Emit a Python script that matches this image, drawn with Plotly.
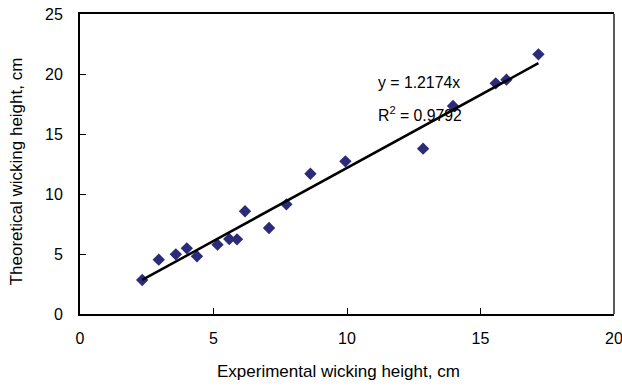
import plotly.graph_objects as go

exp_height = [2.33, 2.95, 3.59, 4.0, 4.38, 5.15, 5.59, 5.88, 6.18, 7.08, 7.73,
              8.63, 9.94, 12.85, 13.97, 15.57, 15.97, 17.17]
theo_height = [2.83, 4.53, 4.97, 5.47, 4.81, 5.78, 6.25, 6.22, 8.56, 7.17, 9.14,
               11.69, 12.72, 13.78, 17.33, 19.22, 19.53, 21.64]
slope = 1.2174
r2_text = "0.9792"
x_ticks = [0, 5, 10, 15, 20]
y_ticks = [0, 5, 10, 15, 20, 25]
x_title = "Experimental wicking height, cm"
y_title = "Theoretical wicking height, cm"

xmin, xmax = min(exp_height), max(exp_height)
fit_x = [xmin, xmax]
fit_y = [slope * v for v in fit_x]

fig = go.Figure()
fig.add_trace(go.Scatter(x=exp_height, y=theo_height, mode="markers",
                         marker=dict(symbol="diamond", size=9.5, color="#2b2b7a",
                                     line=dict(width=0)),
                         showlegend=False))
fig.add_trace(go.Scatter(x=fit_x, y=fit_y, mode="lines",
                         line=dict(color="black", width=2.5), showlegend=False))

fam = "Liberation Sans, Arial, sans-serif"
font = dict(family=fam, size=15.8, color="black")
tick_font = dict(family=fam, size=16, color="black")
title_font = dict(family=fam, size=17, color="black")
fig.add_annotation(x=11.1, y=19.3, xref="x", yref="y", text=f"y = {slope}x",
                   showarrow=False, xanchor="left", yanchor="middle", font=font)
fig.add_annotation(x=11.1, y=16.7, xref="x", yref="y",
                   text=f"R<sup>2</sup> = {r2_text}",
                   showarrow=False, xanchor="left", yanchor="middle", font=font)
fig.add_annotation(x=0.484, y=-0.193, xref="paper", yref="paper", text=x_title,
                   showarrow=False, xanchor="center", yanchor="middle", font=title_font)
fig.add_annotation(x=-0.119, y=0.477, xref="paper", yref="paper", text=y_title,
                   textangle=-90, showarrow=False, xanchor="center", yanchor="middle",
                   font=title_font)

axis_common = dict(showgrid=False, zeroline=False, showline=True, linecolor="black",
                   linewidth=2, ticks="inside", ticklen=6,
                   tickwidth=1, tickcolor="black", tickfont=tick_font,
                   ticklabeloverflow="allow", automargin=False)
fig.update_xaxes(range=[0, 20], tickvals=x_ticks, ticklabelstandoff=9, mirror=True,
                 **axis_common)
fig.update_yaxes(range=[0, 25], tickvals=y_ticks, ticklabelstandoff=12, mirror=False,
                 **axis_common)
fig.add_shape(type="line", xref="paper", yref="paper", x0=1, x1=1, y0=0, y1=1,
              line=dict(color="black", width=1.3))
fig.update_layout(width=622, height=387, margin=dict(l=80, r=8, t=14, b=73),
                  plot_bgcolor="white", paper_bgcolor="white", font=font)
fig.write_html("out.html")
